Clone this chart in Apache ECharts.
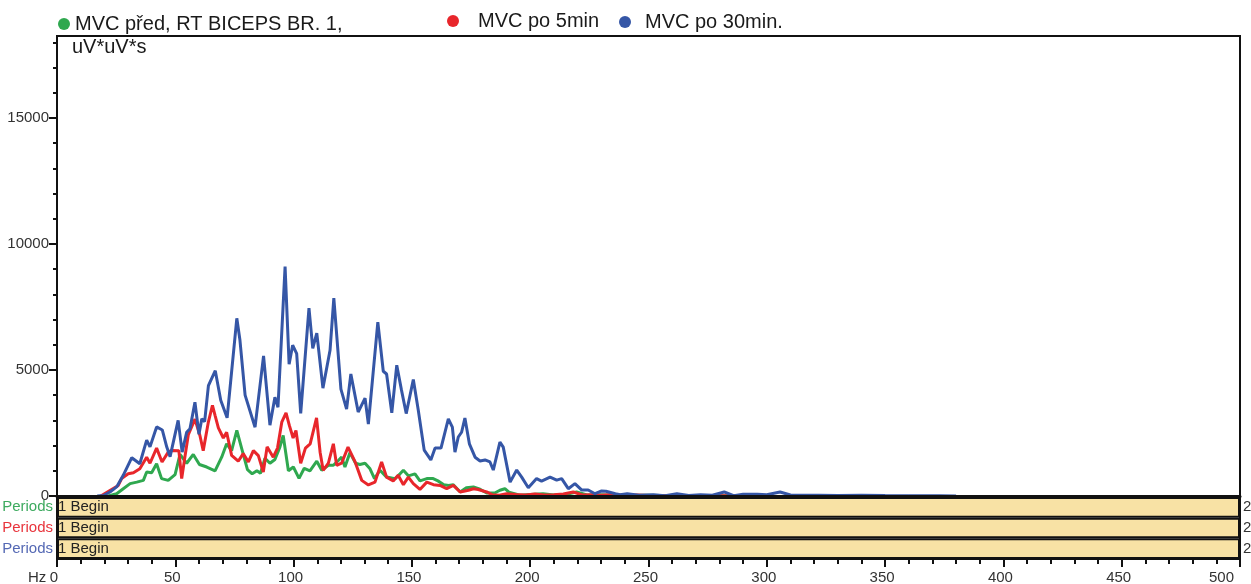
<!DOCTYPE html>
<html><head><meta charset="utf-8">
<script src="https://cdn.jsdelivr.net/npm/echarts@6/dist/echarts.min.js"></script>
<style>html,body{margin:0;padding:0;background:#fff}#c{width:1251px;height:584px}</style>
</head><body><div id="c"></div>
<script>
const seriesNames = ['MVC před, RT BICEPS BR. 1,', 'MVC po 5min', 'MVC po 30min.'];
const seriesColors = ['#2FA84F', '#E8262B', '#3556A6'];
const unitText = 'uV*uV*s';
const xUnitText = 'Hz';

// [Hz, uV*uV*s]
const greenSpectrum = [[21.7,0],[25.2,90],[28,290],[30.9,490],[33.7,550],[36.5,620],[37.9,950],[40,920],[42.1,1280],[44.2,690],[47,620],[49.9,850],[52,1650],[54.8,1300],[57.6,1650],[60.2,1250],[63.3,1150],[66.8,1000],[69.6,1540],[71.7,2070],[73.8,1800],[76,2600],[78.3,1800],[80.5,1050],[82.5,880],[84.5,1000],[86,900],[87.9,1500],[90,1300],[92.1,1450],[94.2,1940],[95.6,2400],[97.8,1000],[99.9,1150],[102.3,700],[104.5,1100],[106.9,1000],[109.8,1380],[111.9,1020],[114.7,1220],[116.8,1220],[118.9,1410],[120.3,1540],[121.7,1150],[123.8,1720],[126.2,1300],[128,1250],[130.2,1300],[132.3,1080],[134.2,690],[136.5,1020],[139.3,750],[142.9,690],[145,880],[146.4,1020],[148.5,800],[151.3,880],[153.4,600],[156.3,690],[159,690],[161,600],[163.5,450],[165.5,420],[167.5,450],[170.4,160],[173,330],[176,360],[178.8,270],[181.6,120],[185,120],[187.2,230],[189.3,290],[191,150],[195.7,30],[200,60],[205.4,90],[210,40],[215,60],[219.6,160],[224,40],[230,50],[240,20],[250,30],[260,10],[280,5],[300,0]];

const redSpectrum = [[18.5,0],[22,200],[25.9,420],[27.3,690],[30.1,880],[32.3,920],[35,1080],[37.9,1540],[39.3,1300],[42.1,1900],[44.4,1350],[47,1740],[48.5,1810],[51.5,1800],[52.7,690],[54.1,1580],[55.5,2430],[58.3,3050],[60.4,2400],[61.8,1800],[63.9,2900],[65.7,3600],[66.8,3200],[68.2,2700],[70.3,2300],[71.7,2530],[73.8,1610],[76.6,1380],[78.7,1680],[80.9,1350],[83,1800],[85.1,1600],[87.2,950],[88.8,1950],[91.4,1540],[93.2,1900],[95,2930],[96.8,3300],[98.2,2800],[99.8,2300],[101,2600],[103,1300],[105,1900],[107,2070],[109.7,3100],[111.2,1740],[112.5,1020],[114.7,1300],[116.8,2070],[118.2,1220],[120.3,1300],[123,1940],[126,1350],[128.8,620],[131.6,440],[134.4,550],[137.2,1350],[139.3,750],[142.1,600],[144.2,820],[146.4,450],[148.5,750],[150.6,490],[153.4,260],[156.3,550],[159.1,450],[161.9,420],[164.7,290],[167.5,420],[170.4,160],[173.9,230],[176,290],[178,260],[181.6,160],[184,50],[187,30],[190,90],[194,60],[198,40],[202,80],[206,40],[210,50],[214,80],[218.2,160],[222,40],[226,50],[230,30],[235,60],[240,20],[245,40],[250,20],[260,10],[280,5],[300,0]];

const blueSpectrum = [[17,0],[19.6,20],[22.4,160],[25.2,360],[28,820],[31.6,1520],[35,1280],[37.9,2220],[39.3,1950],[42.1,2740],[44.5,2620],[46.4,1940],[47.8,1560],[51.2,3000],[52.9,1740],[54.8,2530],[56.2,2670],[58.3,3720],[60,2450],[61.2,3060],[62.4,2950],[64,4380],[66.9,4970],[69.2,3800],[71.9,3100],[76,7050],[77.3,6200],[79.5,4000],[83.7,2730],[87.3,5560],[90,2810],[92.1,3920],[93.4,3520],[96.4,9100],[98.1,5230],[99.6,5980],[101.3,5650],[103,3280],[106.5,7450],[108.1,5860],[109.8,6460],[112.4,4280],[115.4,5780],[117,7850],[120,4240],[122.4,3450],[124.2,4840],[127.3,3330],[130.2,3880],[131.6,2850],[135.6,6900],[137.9,4950],[139.3,4840],[141.5,3300],[143.6,5190],[145.6,4200],[147.6,3270],[150.6,4620],[152.7,3400],[155.2,1820],[158,1430],[159.8,1900],[162.3,1900],[165.4,3060],[167.1,2730],[168.2,1740],[169.6,2340],[171,2530],[172.4,3090],[174.3,2070],[176.7,1540],[178.8,1390],[180.9,1430],[183,1350],[184.4,1030],[187.2,2140],[188.6,1940],[191.5,550],[194.3,1030],[196.4,750],[199.2,330],[202.7,690],[204.8,590],[208.4,750],[211.2,630],[213.3,690],[216.1,290],[218.9,490],[221.7,240],[224.5,240],[227.4,90],[230.2,200],[232,190],[236,90],[238,50],[241,90],[246,30],[252,50],[257,10],[262,90],[267,20],[272,50],[277,30],[282,160],[286,10],[290,70],[296,70],[300,50],[305.6,160],[310,40],[317,30],[322,30],[330,20],[340,25],[350,15],[360,10],[373,5],[380,0]];

const yMajorTicks = [0, 5000, 10000, 15000];
const yMinorTicks = [1000,2000,3000,4000,6000,7000,8000,9000,11000,12000,13000,14000,16000,17000,18000];
const periodLabels = ['Periods', 'Periods', 'Periods'];
const periodColors = ['#3DAA5F', '#E8343C', '#5468B4'];
const periodStartText = ['1 Begin', '1 Begin', '1 Begin'];
const periodEndText = ['2', '2', '2'];
const periodEnd = [500, 500, 500];

const FONT = 'Liberation Sans, Arial, sans-serif';
const chart = echarts.init(document.getElementById('c'), null, {renderer: 'canvas'});

const legendPos = [
  {left: 58, top: 14, pad: 0},
  {left: 447, top: 11, pad: 14},
  {left: 619, top: 12, pad: 9}
];

chart.setOption({
  animation: false,
  backgroundColor: '#fff',
  textStyle: {fontFamily: FONT},
  title: [
    {text: unitText, left: 72, top: 37, padding: 0,
      textStyle: {fontSize: 20, fontWeight: 'normal', color: '#1a1a1a', fontFamily: FONT}},
    {text: xUnitText, left: 28, top: 570, padding: 0,
      textStyle: {fontSize: 15, fontWeight: 'normal', color: '#333', fontFamily: FONT}}
  ],
  legend: seriesNames.map((n, i) => ({
    data: [n], left: legendPos[i].left, top: legendPos[i].top, padding: 0,
    icon: 'circle', itemWidth: 12, itemHeight: 12, selectedMode: false,
    textStyle: {fontSize: 20, color: '#1a1a1a', fontFamily: FONT, padding: [0, 0, 0, legendPos[i].pad]}
  })),
  grid: [
    {left: 57, right: 11, top: 36, height: 460, show: true, borderColor: '#111', borderWidth: 2,
      containLabel: false, outerBoundsMode: 'none'},
    {left: 57, right: 11, top: 497, height: 62, show: true, borderColor: '#111', borderWidth: 2,
      containLabel: false, outerBoundsMode: 'none'}
  ],
  xAxis: [
    {gridIndex: 0, type: 'value', min: 0, max: 500, interval: 50, z: 5,
      axisLine: {show: true, onZero: false, lineStyle: {color: '#111', width: 3}},
      axisTick: {show: false}, axisLabel: {show: false}, splitLine: {show: false}},
    {gridIndex: 1, type: 'value', min: 0, max: 500, interval: 50, position: 'bottom', z: 5,
      axisLine: {show: true, onZero: false, lineStyle: {color: '#111', width: 2}},
      axisTick: {show: true, length: 8, lineStyle: {color: '#111', width: 2}},
      minorTick: {show: true, splitNumber: 5, length: 5, lineStyle: {color: '#111', width: 2}},
      axisLabel: {margin: 11, fontSize: 15, color: '#333', padding: [0, 6, 0, 0], fontFamily: FONT,
        alignMaxLabel: 'right', formatter: v => String(v)},
      splitLine: {show: false}, minorSplitLine: {show: false}}
  ],
  yAxis: [
    {gridIndex: 0, type: 'value', min: 0, max: 18250, interval: 5000, position: 'left', z: 5,
      axisLine: {show: true, lineStyle: {color: '#111', width: 2}},
      axisTick: {show: true, length: 8, customValues: yMajorTicks, lineStyle: {color: '#111', width: 2}},
      axisLabel: {customValues: yMajorTicks, margin: 8, fontSize: 15, color: '#333', fontFamily: FONT,
        formatter: v => String(v)},
      splitLine: {show: false}},
    {gridIndex: 0, type: 'value', min: 0, max: 18250, interval: 1000, position: 'left', offset: 0,
      axisLine: {show: false},
      axisTick: {show: true, length: 4, customValues: yMinorTicks, lineStyle: {color: '#111', width: 2}},
      axisLabel: {show: false}, splitLine: {show: false}},
    {gridIndex: 1, type: 'category', data: ['p0', 'p1', 'p2'], inverse: true, position: 'left',
      axisLine: {show: true, lineStyle: {color: '#111', width: 2}},
      axisTick: {show: false},
      axisLabel: {margin: 4, fontSize: 15, fontFamily: FONT,
        formatter: (v, i) => '{s' + i + '|' + periodLabels[i] + '}',
        rich: {
          s0: {color: periodColors[0], fontSize: 15, fontFamily: FONT},
          s1: {color: periodColors[1], fontSize: 15, fontFamily: FONT},
          s2: {color: periodColors[2], fontSize: 15, fontFamily: FONT}
        }},
      splitLine: {show: false}},
    {gridIndex: 1, type: 'category', data: ['e0', 'e1', 'e2'], inverse: true, position: 'right',
      axisLine: {show: false}, axisTick: {show: false},
      axisLabel: {margin: 3, fontSize: 15, color: '#333', fontFamily: FONT,
        formatter: (v, i) => periodEndText[i]},
      splitLine: {show: false}}
  ],
  series: [
    {type: 'bar', xAxisIndex: 1, yAxisIndex: 2, data: periodEnd, barCategoryGap: '0%', silent: true,
      itemStyle: {color: '#F8E2A5', borderColor: '#111', borderWidth: 2},
      label: {show: true, position: 'insideLeft', distance: 1, fontSize: 15, color: '#222', fontFamily: FONT,
        formatter: p => periodStartText[p.dataIndex]}},
    {name: seriesNames[0], type: 'line', xAxisIndex: 0, yAxisIndex: 0, data: greenSpectrum,
      showSymbol: false, color: seriesColors[0], lineStyle: {width: 3, color: seriesColors[0]}, z: 2},
    {name: seriesNames[1], type: 'line', xAxisIndex: 0, yAxisIndex: 0, data: redSpectrum,
      showSymbol: false, color: seriesColors[1], lineStyle: {width: 3, color: seriesColors[1]}, z: 2},
    {name: seriesNames[2], type: 'line', xAxisIndex: 0, yAxisIndex: 0, data: blueSpectrum,
      showSymbol: false, color: seriesColors[2], lineStyle: {width: 3, color: seriesColors[2]}, z: 2}
  ]
});
</script></body></html>
